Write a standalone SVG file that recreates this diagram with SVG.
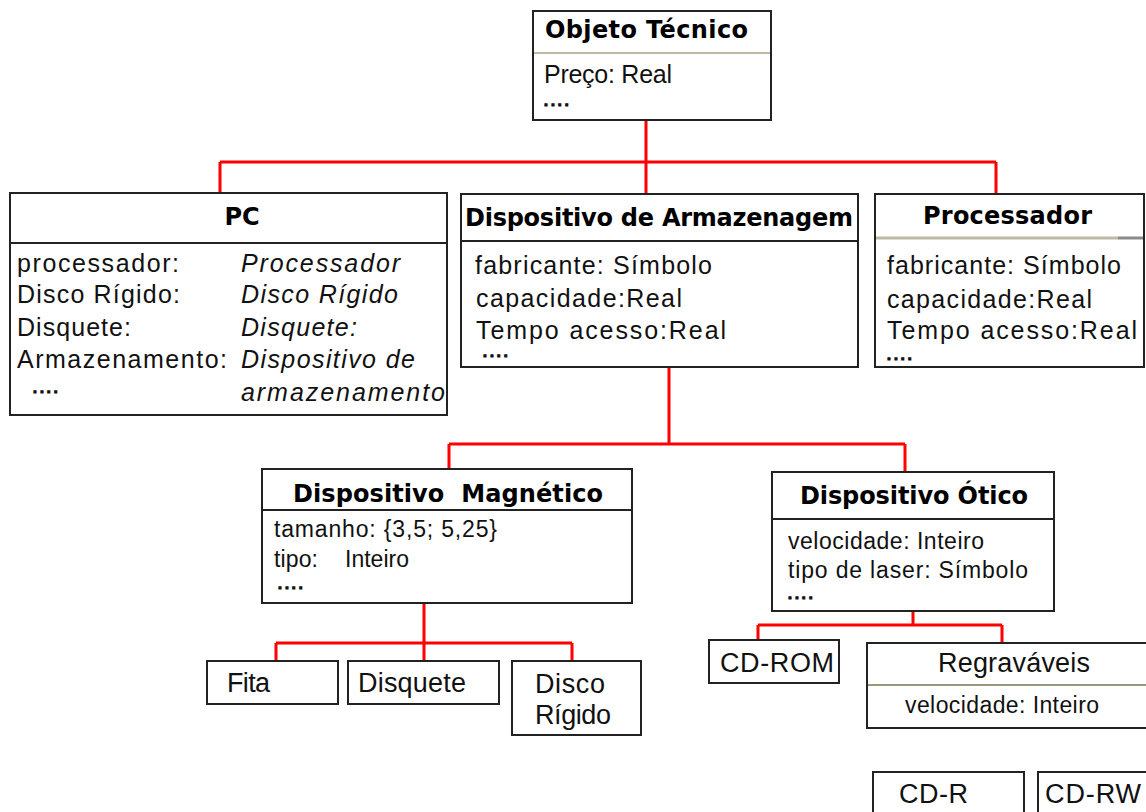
<svg xmlns="http://www.w3.org/2000/svg" width="1146" height="812" viewBox="0 0 1146 812">
<style>
.box{fill:#fff;stroke:#222;stroke-width:2}
.sep{stroke:#222;stroke-width:2}
.ol{stroke:#bdb9a3;stroke-width:2}
.ttl{font-family:"DejaVu Sans",sans-serif;font-weight:bold;font-size:24px;fill:#000}
.b{font-family:"Liberation Sans",Arial,sans-serif;font-size:25px;fill:#111}
.s{font-family:"Liberation Sans",Arial,sans-serif;font-size:23px;fill:#111}
.l{font-family:"Liberation Sans",Arial,sans-serif;font-size:27px;fill:#111}
.i{font-style:italic}
.d{font-family:"Liberation Sans",Arial,sans-serif;font-weight:bold;font-size:14px;letter-spacing:3px;fill:#111;stroke:#111;stroke-width:1.2}
.con{fill:none;stroke:#ff0000;stroke-width:3}
</style>
<rect width="1146" height="812" fill="#fff"/>
<g id="connectors">
<path class="con" d="M646 120V193M220 162H996M220 162V193M996 162V193"/>
<path class="con" d="M669 367V444M449 444H905M449 444V469M905 444V472"/>
<path class="con" d="M424 603V643M276 643H572M276 643V661M424 643V661M572 643V661"/>
<path class="con" d="M913 611V625M758 625H1002M758 625V640M1002 625V643"/>
</g>
<g id="objeto-tecnico">
<rect class="box" x="533" y="11" width="238" height="109"/>
<line class="ol" x1="534" y1="53" x2="770" y2="53"/>
<text class="ttl" x="545" y="38" textLength="203">Objeto Técnico</text>
<text class="b" x="544" y="83" textLength="128">Preço: Real</text>
<text class="d" x="544" y="106">....</text>
</g>
<g id="pc">
<rect class="box" x="10" y="193" width="437" height="222"/>
<line class="sep" x1="10" y1="243" x2="447" y2="243"/>
<text class="ttl" x="242" y="225" text-anchor="middle">PC</text>
<text class="b" x="17" y="272" textLength="162">processador:</text>
<text class="b" x="17" y="303" textLength="163">Disco Rígido:</text>
<text class="b" x="17" y="336" textLength="114">Disquete:</text>
<text class="b" x="17" y="368" textLength="210">Armazenamento:</text>
<text class="d" x="33" y="393">....</text>
<text class="b i" x="241" y="272" textLength="159">Processador</text>
<text class="b i" x="241" y="303" textLength="157">Disco Rígido</text>
<text class="b i" x="241" y="336" textLength="116">Disquete:</text>
<text class="b i" x="241" y="368" textLength="174">Dispositivo de</text>
<text class="b i" x="241" y="401" textLength="204">armazenamento</text>
</g>
<g id="dispositivo-armazenagem">
<rect class="box" x="461" y="194" width="397" height="173"/>
<line class="sep" x1="461" y1="241" x2="858" y2="241"/>
<text class="ttl" x="465" y="226" textLength="388">Dispositivo de Armazenagem</text>
<text class="b" x="475" y="274" textLength="237">fabricante: Símbolo</text>
<text class="b" x="476" y="307" textLength="206">capacidade:Real</text>
<text class="b" x="476" y="339" textLength="250">Tempo acesso:Real</text>
<text class="d" x="483" y="357">....</text>
</g>
<g id="processador">
<rect class="box" x="875" y="194" width="269" height="173"/>
<line x1="876" y1="238" x2="1118" y2="238" stroke="#bdb9a3" stroke-width="3"/>
<line x1="1118" y1="238" x2="1143" y2="238" stroke="#8a8a8a" stroke-width="3"/>
<text class="ttl" x="923" y="224" textLength="169">Processador</text>
<text class="b" x="887" y="274" textLength="234">fabricante: Símbolo</text>
<text class="b" x="887" y="308" textLength="205">capacidade:Real</text>
<text class="b" x="887" y="339" textLength="250">Tempo acesso:Real</text>
<text class="d" x="887" y="360">....</text>
</g>
<g id="dispositivo-magnetico">
<rect class="box" x="262" y="469" width="370" height="134"/>
<line class="sep" x1="262" y1="510" x2="632" y2="510"/>
<text class="ttl" x="293" y="502" textLength="310" xml:space="preserve">Dispositivo  Magnético</text>
<text class="s" x="274" y="537" textLength="223">tamanho: {3,5; 5,25}</text>
<text class="s" x="274" y="567" textLength="44">tipo:</text>
<text class="s" x="345" y="567" textLength="64">Inteiro</text>
<text class="d" x="278" y="589">....</text>
</g>
<g id="dispositivo-otico">
<rect class="box" x="772" y="472" width="282" height="139"/>
<line class="sep" x1="772" y1="519" x2="1054" y2="519"/>
<text class="ttl" x="800" y="504" textLength="228">Dispositivo Ótico</text>
<text class="s" x="788" y="549" textLength="196">velocidade: Inteiro</text>
<text class="s" x="788" y="578" textLength="240">tipo de laser: Símbolo</text>
<text class="d" x="788" y="599">....</text>
</g>
<g id="fita">
<rect class="box" x="207" y="661" width="131" height="43"/>
<text class="l" x="227" y="692" textLength="43">Fita</text>
</g>
<g id="disquete">
<rect class="box" x="348" y="661" width="151" height="43"/>
<text class="l" x="358" y="692" textLength="108">Disquete</text>
</g>
<g id="disco-rigido">
<rect class="box" x="512" y="661" width="129" height="74"/>
<text class="l" x="535" y="693" textLength="70">Disco</text>
<text class="l" x="535" y="724" textLength="76">Rígido</text>
</g>
<g id="cd-rom">
<rect class="box" x="709" y="640" width="130" height="43"/>
<text class="l" x="720" y="672" textLength="114">CD-ROM</text>
</g>
<g id="regravaveis">
<rect class="box" x="867" y="643" width="290" height="85"/>
<line x1="868" y1="685" x2="1146" y2="685" stroke="#9a9a7a" stroke-width="2"/>
<text class="l" x="938" y="672" textLength="152">Regraváveis</text>
<text class="s" x="905" y="713" textLength="194">velocidade: Inteiro</text>
</g>
<g id="cd-r">
<rect class="box" x="873" y="772" width="151" height="60"/>
<text class="l" x="899" y="803" textLength="69">CD-R</text>
</g>
<g id="cd-rw">
<rect class="box" x="1038" y="772" width="130" height="60"/>
<text class="l" x="1045" y="803" textLength="96">CD-RW</text>
</g>
</svg>
